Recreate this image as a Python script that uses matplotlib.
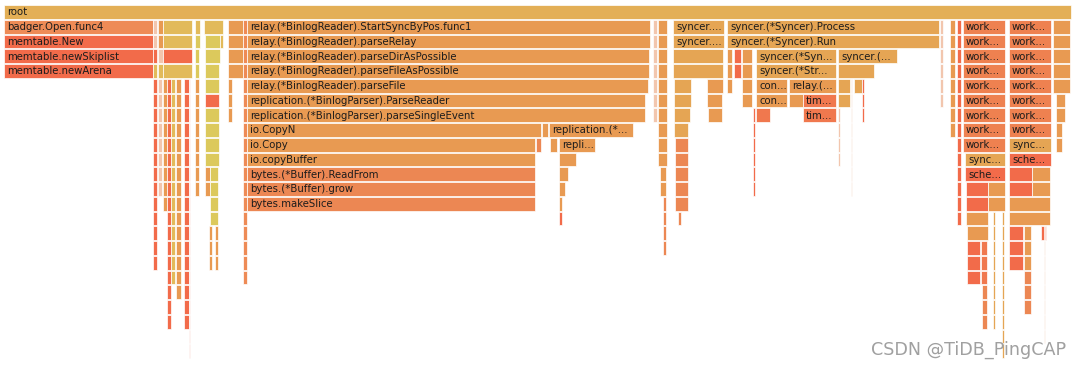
import matplotlib
matplotlib.use("Agg")
import matplotlib.pyplot as plt

# flame graph frames: (label, depth, start sample, width in samples, colour key)
# samples are counted from the left edge of root
root_frames = [
    ("root", 0, 0, 1067, "root"),
]

badger_frames = [
    ("badger.Open.func4", 1, 0, 149, "o3"),
    ("memtable.New", 2, 0, 149, "red"),
    ("memtable.newSkiplist", 3, 0, 149, "red"),
    ("memtable.newArena", 4, 0, 149, "red"),
    # small callers next to badger, top rows
    ("", 1, 149, 4, "pale"), ("", 1, 154, 5, "orange"), ("", 1, 159, 29, "gold2"),
    ("", 1, 191, 5, "gold2"), ("", 1, 200, 19, "gold2"), ("", 1, 224, 15, "orange"),
    ("", 2, 149, 4, "pale"), ("", 2, 154, 5, "orange"), ("", 2, 159, 29, "gold2"),
    ("", 2, 191, 5, "yellow"), ("", 2, 201, 15, "yellow"), ("", 2, 216, 3, "gold2"),
    ("", 2, 224, 15, "orange"),
    ("", 3, 149, 4, "red"), ("", 3, 154, 5, "pale"), ("", 3, 159, 29, "red"),
    ("", 3, 191, 4, "yellow"), ("", 3, 201, 15, "yellow"), ("", 3, 224, 15, "orange"),
    ("", 4, 149, 4, "gold2"), ("", 4, 154, 5, "gold2"), ("", 4, 159, 29, "gold2"),
    ("", 4, 191, 4, "yellow"), ("", 4, 201, 14, "yellow"), ("", 4, 224, 15, "orange"),
    ("", 5, 201, 14, "yellow"), ("", 6, 201, 14, "red"),
    ("", 11, 201, 5, "orange"), ("", 11, 206, 8, "yellow"),
    ("", 12, 201, 5, "orange"), ("", 12, 206, 8, "yellow"),
]

relay_frames = [
    ("relay.(*BinlogReader).StartSyncByPos.func1", 1, 243, 403, "orange"),
    ("relay.(*BinlogReader).parseRelay", 2, 243, 403, "orange"),
    ("relay.(*BinlogReader).parseDirAsPossible", 3, 243, 402, "orange"),
    ("relay.(*BinlogReader).parseFileAsPossible", 4, 243, 402, "orange"),
    ("relay.(*BinlogReader).parseFile", 5, 243, 401, "orange"),
    ("replication.(*BinlogParser).ParseReader", 6, 243, 398, "orange"),
    ("replication.(*BinlogParser).parseSingleEvent", 7, 243, 398, "orange"),
    ("io.CopyN", 8, 243, 294, "orange"),
    ("", 8, 538, 6, "orange"),
    ("replication.(*...", 8, 545, 84, "orange"),
    ("io.Copy", 9, 243, 288, "orange"),
    ("", 9, 532, 5, "o2"),
    ("", 9, 546, 7, "orange"),
    ("repli...", 9, 555, 36, "orange"),
    ("io.copyBuffer", 10, 243, 288, "orange"),
    ("", 10, 555, 17, "orange"),
    ("bytes.(*Buffer).ReadFrom", 11, 243, 288, "o2"),
    ("", 11, 555, 9, "orange"),
    ("bytes.(*Buffer).grow", 12, 243, 288, "o2"),
    ("", 12, 555, 6, "orange"),
    ("bytes.makeSlice", 13, 243, 288, "o2"),
    ("", 13, 555, 3, "orange"),
    ("", 14, 555, 3, "red"),
]

syncer_frames = [
    ("syncer....", 1, 669, 51, "gold"),
    ("syncer....", 2, 669, 51, "gold"),
    ("", 3, 669, 50, "gold"), ("", 4, 669, 50, "gold"),
    ("", 5, 670, 17, "gold"), ("", 5, 703, 16, "orange"),
    ("", 6, 670, 17, "gold"), ("", 6, 703, 15, "orange"),
    ("", 7, 670, 16, "gold"), ("", 7, 704, 14, "orange"),
    ("", 8, 670, 14, "gold"),
    ("syncer.(*Syncer).Process", 1, 723, 212, "gold"),
    ("syncer.(*Syncer).Run", 2, 723, 212, "gold"),
    ("", 3, 723, 5, "orange"), ("", 3, 730, 7, "red"), ("", 3, 738, 10, "orange"),
    ("syncer.(*Syn...", 3, 752, 80, "gold"),
    ("syncer.(...", 3, 834, 59, "gold"),
    ("", 4, 723, 5, "orange"), ("", 4, 730, 7, "red"), ("", 4, 738, 10, "orange"),
    ("syncer.(*Str...", 4, 752, 80, "gold"),
    ("", 4, 834, 36, "gold"),
    ("", 5, 723, 5, "orange"), ("", 5, 738, 10, "orange"),
    ("con...", 5, 752, 31, "orange"),
    ("relay.(...", 5, 785, 47, "orange"),
    ("", 5, 834, 12, "gold"), ("", 5, 850, 8, "gold"), ("", 5, 858, 2, "red"),
    ("", 6, 738, 10, "orange"),
    ("con...", 6, 752, 31, "orange"),
    ("", 6, 785, 14, "orange"),
    ("tim...", 6, 799, 33, "red2"),
    ("", 6, 834, 12, "gold"), ("", 6, 858, 2, "red"),
    ("", 7, 752, 14, "red2"),
    ("tim...", 7, 799, 33, "red2"),
    ("", 7, 858, 2, "red"),
]

worker_frames = (
    [("work...", d, 959, 42, "work") for d in range(1, 10)]
    + [("sync...", 10, 961, 40, "gold"), ("sche...", 11, 961, 40, "red")]
    + [("work...", d, 1005, 42, "work") for d in range(1, 9)]
    + [("sync...", 9, 1005, 42, "gold"), ("sche...", 10, 1005, 42, "red")]
    + [
        ("", 12, 962, 22, "red"), ("", 12, 984, 17, "orange"),
        ("", 13, 962, 22, "red"), ("", 13, 984, 17, "orange"),
        ("", 14, 962, 22, "orange"), ("", 15, 963, 21, "orange"),
        ("", 11, 1005, 23, "red"), ("", 11, 1028, 18, "orange"),
        ("", 12, 1005, 23, "red"), ("", 12, 1028, 18, "orange"),
        ("", 13, 1005, 41, "orange"), ("", 14, 1005, 41, "orange"),
        ("", 15, 1037, 5, "red"),
    ]
)

# narrow single-child chains: (start, width, top depth, bottom depth, colour key)
narrow_stacks = [
    (149, 4, 5, 17, "red"), (154, 4, 5, 12, "pale"), (159, 4, 5, 13, "orange"),
    (163, 4, 5, 21, "red"), (167, 4, 5, 18, "gold2"), (172, 5, 5, 19, "orange"),
    (180, 5, 5, 21, "red"), (185, 1, 5, 23, "pink"), (191, 4, 5, 12, "orange"),
    (201, 14, 7, 10, "yellow"), (206, 8, 13, 14, "yellow"),
    (205, 3, 15, 17, "orange"), (211, 3, 15, 17, "orange"),
    (224, 4, 5, 7, "orange"), (239, 4, 1, 18, "o3"),
    (649, 4, 1, 7, "pale"), (654, 9, 1, 10, "orange"), (656, 6, 11, 12, "orange"),
    (659, 3, 13, 16, "o2"),
    (671, 13, 9, 13, "o2"), (674, 3, 14, 14, "o2"),
    (749, 2, 7, 12, "red"), (834, 2, 7, 10, "pale"), (847, 1, 5, 12, "pale"),
    (936, 3, 1, 6, "pale"), (946, 5, 1, 8, "orange"), (953, 4, 1, 14, "red"),
    (963, 13, 16, 18, "red"), (977, 6, 16, 18, "red2"), (978, 5, 19, 21, "o2"),
    (989, 2, 14, 21, "gold"), (998, 2, 14, 23, "gold"),
    (1005, 14, 15, 17, "red"), (1020, 7, 15, 17, "orange"), (1020, 7, 18, 20, "o2"),
    (1040, 1, 15, 22, "pale"),
    (1049, 17, 1, 5, "orange"), (1052, 9, 6, 7, "orange"), (1052, 6, 8, 9, "orange"),
]

colours = {
    "root": "#E3AF56",
    "orange": "#E89A52",
    "o2": "#EC8753",
    "o3": "#EE8B56",
    "red": "#F26B4A",
    "red2": "#F0784E",
    "gold": "#E5A554",
    "gold2": "#E2BA5A",
    "yellow": "#DCC95C",
    "work": "#EE8150",
    "pale": "#F2C6AE",
    "pink": "#F4B7A8",
}

fig = plt.figure(figsize=(10.8, 3.68), dpi=100)
ax = fig.add_axes([0, 0, 1, 1])

row_px = 14.75
ax.set_xlim(-4, 1076)
ax.set_ylim((368 - 5) / row_px, -5 / row_px)
ax.axis("off")

frames = root_frames + badger_frames + relay_frames + syncer_frames + worker_frames
for start, width, top, bottom, key in narrow_stacks:
    for d in range(top, bottom + 1):
        frames.append(("", d, start, width, key))

for name, depth, start, width, key in frames:
    ax.barh(depth, width, left=start, height=0.94, align="edge",
            color=colours[key], edgecolor="white", linewidth=0.5)
    if name:
        ax.text(start + 3, depth + 0.5, name, fontsize=7.3, color="#1c1c1c",
                va="center", ha="left")

# watermark
fig.text(0.987, 0.048, "CSDN @TiDB_PingCAP", fontsize=12.6, color="#a0a0a0",
         ha="right", va="center")

fig.savefig("out.png", dpi=100)
